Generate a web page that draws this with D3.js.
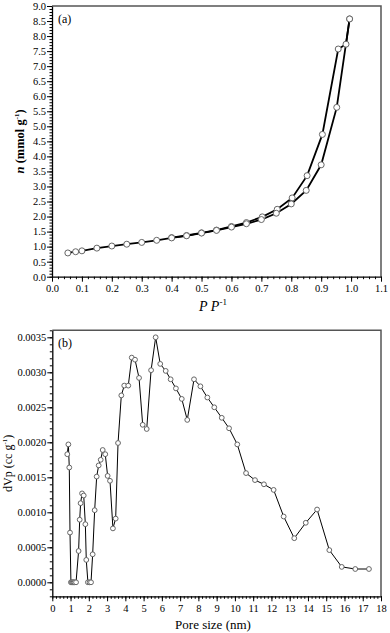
<!DOCTYPE html>
<html>
<head>
<meta charset="utf-8">
<script src="https://cdn.jsdelivr.net/npm/d3@7"></script>
<style>
  body { margin: 0; background: #fff; }
  svg text { font-family: "Liberation Serif", "Times New Roman", serif; }
  .tick text { font-size: 10.5px; fill: #000; }
</style>
</head>
<body>
<div id="chart"></div>
<script>
// (a) isotherm, adsorption branch
var adsP = [0.053, 0.079, 0.1, 0.15, 0.2, 0.25, 0.3, 0.35, 0.4, 0.45, 0.5, 0.55, 0.6, 0.65, 0.7, 0.75, 0.8, 0.85, 0.9, 0.952, 0.995];
var adsN = [0.79, 0.83, 0.86, 0.95, 1.02, 1.08, 1.14, 1.21, 1.29, 1.36, 1.45, 1.54, 1.65, 1.76, 1.90, 2.11, 2.42, 2.87, 3.72, 5.63, 8.57];
// desorption branch
var desP = [0.995, 0.983, 0.957, 0.904, 0.853, 0.803, 0.753, 0.703, 0.65, 0.6, 0.55, 0.5, 0.45, 0.4];
var desN = [8.57, 7.73, 7.57, 4.73, 3.36, 2.62, 2.24, 1.99, 1.80, 1.67, 1.55, 1.46, 1.37, 1.30];

// (b) pore size distribution
var poreSize = [0.82, 0.88, 0.93, 0.97, 1.02, 1.07, 1.12, 1.17, 1.22, 1.3, 1.44, 1.50, 1.55, 1.63, 1.72, 1.81, 1.86, 1.95, 2.04, 2.12,
  2.21, 2.32, 2.43, 2.54, 2.65, 2.76, 2.90, 3.03, 3.16, 3.32, 3.47, 3.60, 3.78, 3.94, 4.16, 4.35, 4.53, 4.75, 4.95, 5.17,
  5.41, 5.66, 5.91, 6.21, 6.48, 6.77, 7.09, 7.39, 7.76, 8.11, 8.49, 8.87, 9.28, 9.68, 10.13, 10.61, 11.10, 11.59, 12.12, 12.67,
  13.25, 13.88, 14.50, 15.17, 15.85, 16.59, 17.34];
var dVp = [0.00183, 0.00197, 0.00164, 0.00071, 0, 0, 0, 0, 0, 0, 0.000447, 0.000894, 0.00113, 0.00127, 0.00124, 0.00083, 0.00032, 0, 0, 0,
  0.0004, 0.00103, 0.00151, 0.00167, 0.00175, 0.00189, 0.00183, 0.00152, 0.00145, 0.00077, 0.00091, 0.00199, 0.00267, 0.00281, 0.00281, 0.00321, 0.00318, 0.00292, 0.00225, 0.00219,
  0.00303, 0.0035, 0.00312, 0.00302, 0.0029, 0.00277, 0.00262, 0.00232, 0.0029, 0.0028, 0.00264, 0.0025, 0.00235, 0.0022, 0.00197, 0.00156, 0.00146, 0.0014, 0.00132, 0.00094,
  0.00063, 0.00085, 0.00104, 0.00046, 0.00022, 0.00019, 0.00019];

var width = 390, height = 633;

var svg = d3.select("#chart").append("svg")
    .attr("width", width)
    .attr("height", height);

// plot areas
var pa = {left: 52, right: 381, top: 6, bottom: 276.7};
var pb = {left: 52.3, right: 381, top: 330.3, bottom: 596.3};

// ---------- panel (a) ----------
var xa = d3.scaleLinear().domain([0, 1.1]).range([pa.left, pa.right]);
var ya = d3.scaleLinear().domain([0, 9]).range([pa.bottom, pa.top]);

// frame: top and right
svg.append("path")
    .attr("d", "M" + pa.left + "," + pa.top + "H" + pa.right + "V" + pa.bottom)
    .attr("fill", "none").attr("stroke", "#555").attr("stroke-width", 1.5);

function minorAxis(g, axis) {
  g.call(axis);
  g.select(".domain").remove();
  g.selectAll("text").remove();
  g.selectAll("line").attr("stroke", "#000");
}

svg.append("g").attr("transform", "translate(0," + pa.bottom + ")")
    .call(minorAxis, d3.axisBottom(xa).tickValues(d3.range(0, 1.101, 0.02)).tickSize(2.5));
svg.append("g").attr("transform", "translate(" + pa.left + ",0)")
    .call(minorAxis, d3.axisLeft(ya).tickValues(d3.range(0, 9.01, 0.1)).tickSize(2.5));

var xAxisA = svg.append("g").attr("transform", "translate(0," + pa.bottom + ")")
    .call(d3.axisBottom(xa).tickValues(d3.range(0, 1.101, 0.1)).tickFormat(d3.format(".1f")).tickSize(5).tickSizeOuter(0).tickPadding(3));
var yAxisA = svg.append("g").attr("transform", "translate(" + pa.left + ",0)")
    .call(d3.axisLeft(ya).tickValues(d3.range(0, 9.01, 0.5)).tickFormat(d3.format(".1f")).tickSize(5).tickSizeOuter(0).tickPadding(1));
[xAxisA, yAxisA].forEach(function(g) {
  g.select(".domain").attr("stroke", "#000").attr("stroke-width", 1.3);
  g.selectAll(".tick line").attr("stroke", "#000");
});

var lineA = d3.line()
    .x(function(d) { return xa(d[0]); })
    .y(function(d) { return ya(d[1]); });

var ads = d3.zip(adsP, adsN);
var des = d3.zip(desP, desN);

[des, ads].forEach(function(series) {
  svg.append("path")
      .datum(series)
      .attr("d", lineA)
      .attr("fill", "none")
      .attr("stroke", "#000")
      .attr("stroke-width", 1.8);
});
[des, ads].forEach(function(series) {
  svg.append("g").selectAll("circle")
      .data(series)
      .enter().append("circle")
      .attr("cx", function(d) { return xa(d[0]); })
      .attr("cy", function(d) { return ya(d[1]); })
      .attr("r", 3)
      .attr("fill", "#fff")
      .attr("stroke", "#666")
      .attr("stroke-width", 1);
});

svg.append("text").attr("x", 58).attr("y", 23).style("font-size", "12px").text("(a)");

var yla = svg.append("text")
    .attr("transform", "translate(24," + ((pa.top + pa.bottom) / 2) + ") rotate(-90)")
    .attr("text-anchor", "middle")
    .style("font-size", "12.5px").style("font-weight", "bold");
yla.append("tspan").style("font-style", "italic").text("n");
yla.append("tspan").text(" (mmol g");
yla.append("tspan").attr("dy", -5).style("font-size", "7px").text("-1");
yla.append("tspan").attr("dy", 5).text(")");

var xla = svg.append("text")
    .attr("x", 213).attr("y", 311)
    .attr("text-anchor", "middle")
    .style("font-size", "14px");
xla.append("tspan").style("font-style", "italic").text("P P");
xla.append("tspan").attr("dy", -6).style("font-size", "9px").text("-1");

// ---------- panel (b) ----------
var xb = d3.scaleLinear().domain([0, 18]).range([pb.left, pb.right]);
var yb = d3.scaleLinear().domain([-0.0002, 0.0036]).range([pb.bottom, pb.top]);

svg.append("path")
    .attr("d", "M" + pb.left + "," + pb.top + "H" + pb.right + "V" + pb.bottom)
    .attr("fill", "none").attr("stroke", "#555").attr("stroke-width", 1.5);

svg.append("g").attr("transform", "translate(0," + pb.bottom + ")")
    .call(minorAxis, d3.axisBottom(xb).tickValues(d3.range(0, 18.01, 0.2)).tickSize(2.5));
svg.append("g").attr("transform", "translate(" + pb.left + ",0)")
    .call(minorAxis, d3.axisLeft(yb).tickValues(d3.range(-0.0002, 0.00361, 0.0001)).tickSize(2.5));

var xAxisB = svg.append("g").attr("transform", "translate(0," + pb.bottom + ")")
    .call(d3.axisBottom(xb).tickValues(d3.range(0, 19, 1)).tickFormat(d3.format("d")).tickSize(5).tickSizeOuter(0).tickPadding(3));
var yAxisB = svg.append("g").attr("transform", "translate(" + pb.left + ",0)")
    .call(d3.axisLeft(yb).tickValues(d3.range(0, 0.00351, 0.0005)).tickFormat(d3.format(".4f")).tickSize(5).tickSizeOuter(0).tickPadding(1));
[xAxisB, yAxisB].forEach(function(g) {
  g.select(".domain").attr("stroke", "#000").attr("stroke-width", 1.3);
  g.selectAll(".tick line").attr("stroke", "#000");
});

var pore = d3.zip(poreSize, dVp);

svg.append("path")
    .datum(pore)
    .attr("d", d3.line()
        .x(function(d) { return xb(d[0]); })
        .y(function(d) { return yb(d[1]); }))
    .attr("fill", "none")
    .attr("stroke", "#000")
    .attr("stroke-width", 1);

svg.append("g").selectAll("circle")
    .data(pore)
    .enter().append("circle")
    .attr("cx", function(d) { return xb(d[0]); })
    .attr("cy", function(d) { return yb(d[1]); })
    .attr("r", 2.4)
    .attr("fill", "#fff")
    .attr("stroke", "#666")
    .attr("stroke-width", 1);

svg.append("text").attr("x", 58).attr("y", 347).style("font-size", "12px").text("(b)");

var ylb = svg.append("text")
    .attr("transform", "translate(12," + ((pb.top + pb.bottom) / 2) + ") rotate(-90)")
    .attr("text-anchor", "middle")
    .style("font-size", "12px");
ylb.append("tspan").text("dVp (cc g");
ylb.append("tspan").attr("dy", -5).style("font-size", "7px").text("-1");
ylb.append("tspan").attr("dy", 5).text(")");

svg.append("text")
    .attr("x", 213).attr("y", 629)
    .attr("text-anchor", "middle")
    .style("font-size", "13px")
    .text("Pore size (nm)");
</script>
</body>
</html>
